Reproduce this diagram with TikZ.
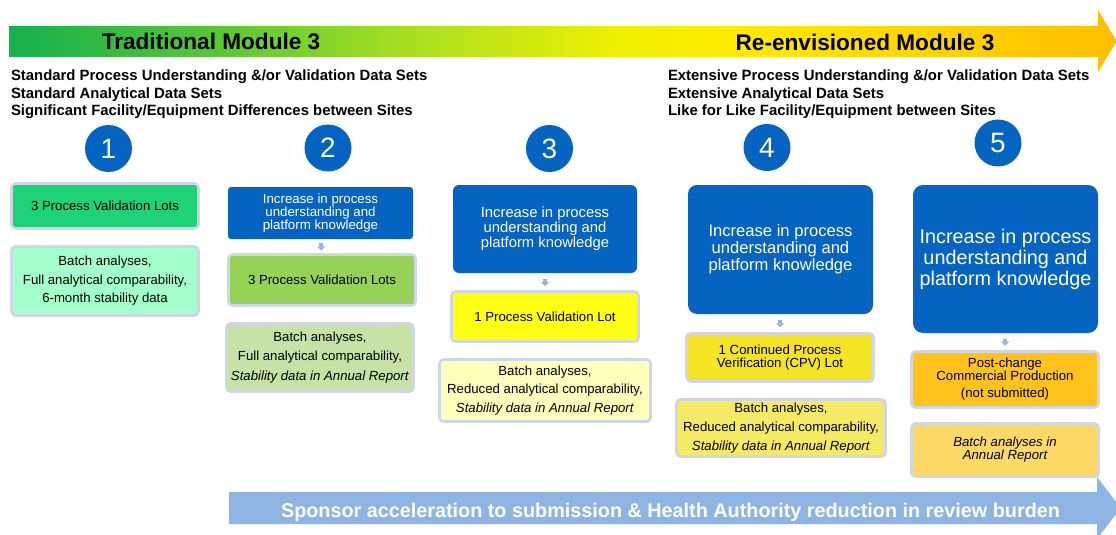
\documentclass[tikz,border=0pt]{standalone}
\usepackage{fontspec}
\setmainfont{Liberation Sans}
\usetikzlibrary{arrows.meta}

\definecolor{gA}{RGB}{22,176,78}
\definecolor{gB}{RGB}{92,200,52}
\definecolor{gC}{RGB}{165,222,35}
\definecolor{gD}{RGB}{238,240,0}
\definecolor{gE}{RGB}{255,236,0}
\definecolor{gF}{RGB}{255,190,0}
\definecolor{boxblue}{RGB}{5,99,193}
\definecolor{boxline}{RGB}{208,214,234}
\definecolor{linkcol}{RGB}{160,176,226}
\definecolor{sponsor}{RGB}{142,180,227}
\definecolor{fillA}{RGB}{30,210,120}
\definecolor{fillB}{RGB}{163,255,203}
\definecolor{fillC}{RGB}{150,210,88}
\definecolor{fillD}{RGB}{198,226,165}
\definecolor{fillE}{RGB}{255,255,20}
\definecolor{fillF}{RGB}{255,255,187}
\definecolor{fillG}{RGB}{245,228,35}
\definecolor{fillH}{RGB}{245,234,100}
\definecolor{fillI}{RGB}{255,195,28}
\definecolor{fillJ}{RGB}{255,217,102}

% green -> yellow -> amber band of the top arrow
\pgfdeclarehorizontalshading{modulegrad}{100bp}{color(0bp)=(gA); color(25bp)=(gA); color(35bp)=(gB); color(42.5bp)=(gC); color(52.5bp)=(gD); color(57.5bp)=(gE); color(75bp)=(gF); color(100bp)=(gF)}

\begin{document}
\begin{tikzpicture}[x=1pt,y=-1pt,
  every node/.style={inner sep=0pt, outer sep=0pt},
  stagebox/.style={draw=boxline, line width=2.6pt, rounded corners=4pt, align=center,
    minimum width=187pt, font=\fontsize{13.2}{13.5}\selectfont},
  bluebox/.style={fill=boxblue, text=white, align=center, minimum width=185pt},
  stepnum/.style={circle, fill=boxblue, text=white, minimum size=47pt,
    font=\fontsize{28}{28}\selectfont},
  title/.style={anchor=base, font=\fontsize{22.6}{24}\selectfont\bfseries},
  subline/.style={anchor=base west, font=\fontsize{14.9}{17}\selectfont\bfseries},
  link/.style={draw=linkcol, line width=4pt, -{Triangle[width=8pt,length=4pt]},
    shorten <=5.5pt, shorten >=5.5pt}
]
\useasboundingbox (0,0) rectangle (1116,535);
\clip (0,0) rectangle (1116,535);
\fill[white] (0,0) rectangle (1116,535);

% top arrow with the module titles
\shade[shading=modulegrad] (9,26) -- (1098,26) -- (1098,10) -- (1116.6,41)
  -- (1098,72) -- (1098,57) -- (9,57) -- cycle;
\node[title] (tradtitle) at (211,50) {Traditional Module 3};
\node[title] (newtitle) at (865,51) {Re-envisioned Module 3};

% data set descriptions
\node[subline] (l1) at (11,81) {Standard Process Understanding \&/or Validation Data Sets};
\node[subline] (l2) at (11,98) {Standard Analytical Data Sets};
\node[subline] (l3) at (11,115) {Significant Facility/Equipment Differences between Sites};
\node[subline] (r1) at (668,81) {Extensive Process Understanding \&/or Validation Data Sets};
\node[subline] (r2) at (668,98) {Extensive Analytical Data Sets};
\node[subline] (r3) at (668,115) {Like for Like Facility/Equipment between Sites};

% step numbers
\node[stepnum] (n1) at (108.5,148.5) {1};
\node[stepnum] (n2) at (328,148) {2};
\node[stepnum] (n3) at (549.5,148.5) {3};
\node[stepnum] (n4) at (767,147.5) {4};
\node[stepnum] (n5) at (998,143) {5};

% column 1
\node[stagebox, fill=fillA, minimum height=45pt] (c1a) at (105,206) {3 Process Validation Lots};
\node[stagebox, fill=fillB, minimum height=69pt, font=\fontsize{13.2}{18.5}\selectfont]
  (c1b) at (105,281) {Batch analyses,\\Full analytical comparability,\\6-month stability data};

% column 2
\node[bluebox, rounded corners=3pt, minimum height=52pt, font=\fontsize{13.3}{13}\selectfont]
  (c2a) at (320.5,213) {Increase in process\\understanding and\\platform knowledge};
\node[stagebox, fill=fillC, minimum height=51pt] (c2b) at (322,280) {3 Process Validation Lots};
\node[stagebox, fill=fillD, minimum height=68pt, font=\fontsize{13.2}{19.5}\selectfont]
  (c2c) at (320,357.5) {Batch analyses,\\Full analytical comparability,\\\textit{Stability data in Annual Report}};
\draw[link, shorten <=4pt, shorten >=4pt] (c2a) -- (c2b);

% column 3
\node[bluebox, rounded corners=6pt, minimum width=184pt, minimum height=88pt, font=\fontsize{14.8}{15}\selectfont]
  (c3a) at (545,229) {Increase in process\\understanding and\\platform knowledge};
\node[stagebox, fill=fillE, minimum height=50pt] (c3b) at (545,316.5) {1 Process Validation Lot};
\node[stagebox, fill=fillF, minimum width=211pt, minimum height=62pt, font=\fontsize{13.2}{18.5}\selectfont]
  (c3c) at (545,390.5) {Batch analyses,\\Reduced analytical comparability,\\\textit{Stability data in Annual Report}};
\draw[link] (c3a) -- (c3b);

% column 4
\node[bluebox, rounded corners=9pt, minimum height=129pt, font=\fontsize{16.6}{17}\selectfont]
  (c4a) at (780.5,249.5) {Increase in process\\understanding and\\platform knowledge};
\node[stagebox, fill=fillG, minimum height=48pt, font=\fontsize{13.2}{12.5}\selectfont]
  (c4b) at (780,357.5) {1 Continued Process\\Verification (CPV) Lot};
\node[stagebox, fill=fillH, minimum width=209pt, minimum height=57pt, font=\fontsize{13.2}{19}\selectfont]
  (c4c) at (781,428) {Batch analyses,\\Reduced analytical comparability,\\\textit{Stability data in Annual Report}};
\draw[link, shorten <=6.2pt, shorten >=6.2pt] (c4a) -- (c4b);

% column 5
\node[bluebox, rounded corners=10pt, minimum height=148pt, font=\fontsize{19.8}{21}\selectfont]
  (c5a) at (1005.5,259) {Increase in process\\understanding and\\platform knowledge};
\node[stagebox, fill=fillI, minimum height=56pt, font=\fontsize{13.2}{13}\selectfont]
  (c5b) at (1005,379.5) {Post-change\\Commercial Production\\[4pt](not submitted)};
\node[stagebox, fill=fillJ, minimum height=53pt, font=\fontsize{13.2}{13}\selectfont\itshape]
  (c5c) at (1005,450) {Batch analyses in\\Annual Report};
\draw[link, shorten <=5.8pt, shorten >=5.8pt] (c5a) -- (c5b);

% bottom arrow
\fill[sponsor] (229,492) -- (1097,492) -- (1097,477) -- (1120.6,508)
  -- (1097,539) -- (1097,524) -- (229,524) -- cycle;
\node[anchor=base, text=white, font=\fontsize{19.8}{21}\selectfont\bfseries] (sponsortext) at (670.5,517)
  {Sponsor acceleration to submission \& Health Authority reduction in review burden};
\end{tikzpicture}
\end{document}
